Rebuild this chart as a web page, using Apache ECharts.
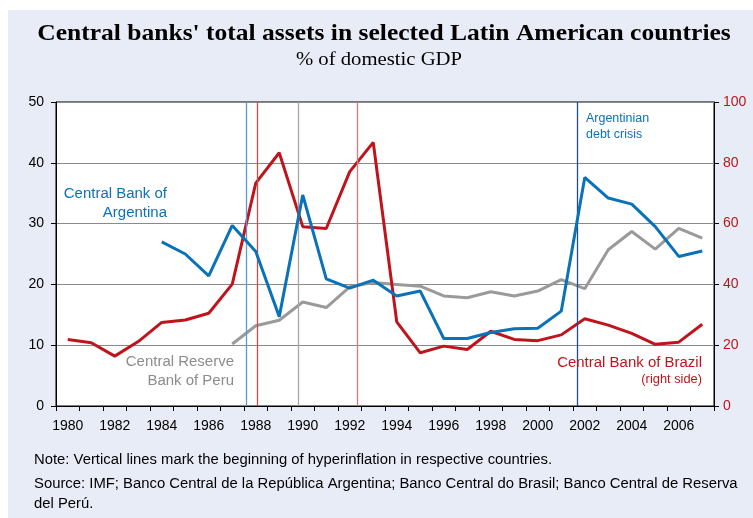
<!DOCTYPE html>
<html><head><meta charset="utf-8">
<script src="https://cdn.jsdelivr.net/npm/echarts@6/dist/echarts.min.js"></script>
<style>html,body{margin:0;padding:0;background:#fff}#c{width:753px;height:518px}</style>
</head><body><div id="c"></div>
<script>
const years = ['1980','1981','1982','1983','1984','1985','1986','1987','1988','1989','1990','1991','1992','1993','1994','1995','1996','1997','1998','1999','2000','2001','2002','2003','2004','2005','2006','2007'];
const argentina = [null,null,null,null,27.0,25.0,21.4,29.7,25.4,14.7,34.7,20.9,19.4,20.7,18.1,18.9,11.1,11.1,12.1,12.7,12.8,15.6,37.6,34.2,33.2,29.5,24.6,25.5];
const peru = [null,null,null,null,null,null,null,10.2,13.2,14.1,17.1,16.2,19.6,20.3,20.0,19.7,18.1,17.8,18.8,18.1,18.9,20.8,19.3,25.7,28.7,25.8,29.2,27.6];
const brazil = [21.9,20.8,16.4,21.2,27.5,28.3,30.5,40.1,73.3,83.3,59.0,58.4,77.1,86.7,27.7,17.5,19.7,18.6,24.6,21.9,21.5,23.4,28.7,26.6,23.9,20.3,21.0,26.9];
// Vertical marker lines (year positions)
const markerYears = [1987.6, 1988.07, 1989.8, 1992.3, 2001.7];
const markerColors = ['#5b9bd5','#c0504d','#a6a6a6','#d9797b','#1f4f8a'];

const BLUE = '#0a72b8', RED = '#c0141c', GRAY = '#9a9a9a';
const SANS = '"Liberation Sans", Arial, sans-serif';
const SERIF = '"Liberation Serif", "Times New Roman", serif';
const chart = echarts.init(document.getElementById('c'));
const axisFont = {fontFamily:SANS, fontSize:14};
chart.setOption({
  animation:false,
  backgroundColor:'#ffffff',
  graphic:[
    {type:'rect', z:-10, shape:{x:8,y:10,width:745,height:508}, style:{fill:'#e8ecf7'}},
    {type:'text', x:384, y:23, scaleX:1.11, style:{text:"Central banks' total assets in selected Latin American countries", align:'center', font:'bold 23px ' + SERIF, fill:'#000'}},
    {type:'text', x:379, y:51, scaleX:1.15, style:{text:'% of domestic GDP', align:'center', font:'18px ' + SERIF, fill:'#000'}},
    {type:'text', z:100, x:167, y:185, scaleX:1.07, style:{text:'Central Bank of\nArgentina', align:'right', font:'14px ' + SANS, fill:BLUE, lineHeight:19}},
    {type:'text', z:100, x:234, y:353, scaleX:1.07, style:{text:'Central Reserve\nBank of Peru', align:'right', font:'14px ' + SANS, fill:'#8c8c8c', lineHeight:19}},
    {type:'text', z:100, x:586, y:111, scaleX:1.04, style:{text:'Argentinian\ndebt crisis', align:'left', font:'12px ' + SANS, fill:BLUE, lineHeight:16}},
    {type:'text', z:100, x:702, y:356, scaleX:1.07, style:{text:'Central Bank of Brazil', align:'right', font:'14px ' + SANS, fill:RED}},
    {type:'text', z:100, x:702, y:374, scaleX:1.07, style:{text:'(right side)', align:'right', font:'12px ' + SANS, fill:RED}},
    {type:'text', x:34, y:453, scaleX:1.06, style:{text:'Note: Vertical lines mark the beginning of hyperinflation in respective countries.', font:'14px ' + SANS, fill:'#000'}},
    {type:'text', x:34, y:474, scaleX:1.06, style:{text:'Source: IMF; Banco Central de la República Argentina; Banco Central do Brasil; Banco Central de Reserva\ndel Perú.', font:'14px ' + SANS, fill:'#000', lineHeight:20}}
  ],
  grid:{left:56, right:39, top:102, bottom:112, show:true, backgroundColor:'#fff', borderColor:'#000', borderWidth:1},
  xAxis:[
    {type:'category', data:years, boundaryGap:true,
      axisLine:{lineStyle:{color:'#000', width:1}},
      axisTick:{show:true, interval:0, length:5, lineStyle:{color:'#000'}},
      axisLabel:Object.assign({interval:1, color:'#000', margin:13}, axisFont),
      splitLine:{show:false}},
    {type:'value', min:1979.5, max:2007.5, show:false, splitLine:{show:false}}
  ],
  yAxis:[
    {type:'value', min:0, max:50, interval:10, position:'left',
      axisLine:{show:true, lineStyle:{color:'#000'}},
      axisTick:{show:true, length:5, lineStyle:{color:'#000'}},
      axisLabel:Object.assign({color:'#000', margin:12}, axisFont),
      splitLine:{show:true, lineStyle:{color:'#8a8a8a', width:1}}},
    {type:'value', min:0, max:100, interval:20, position:'right',
      axisLine:{show:true, lineStyle:{color:'#000'}},
      axisTick:{show:true, length:5, lineStyle:{color:'#000'}},
      axisLabel:Object.assign({color:RED, margin:9}, axisFont),
      splitLine:{show:false}}
  ],
  series:[
    {type:'line', xAxisIndex:1, yAxisIndex:0, data:[], silent:true, z:1,
      markLine:{symbol:'none', silent:true, label:{show:false},
        data: markerYears.map((y,i)=>({xAxis:y, lineStyle:{color:markerColors[i], width:1.3, type:'solid'}}))}},
    {name:'Peru', type:'line', data:peru, yAxisIndex:0, symbol:'none', z:3, lineStyle:{color:GRAY, width:3}},
    {name:'Brazil', type:'line', data:brazil, yAxisIndex:1, symbol:'none', z:4, lineStyle:{color:RED, width:3}},
    {name:'Argentina', type:'line', data:argentina, yAxisIndex:0, symbol:'none', z:5, lineStyle:{color:BLUE, width:3}}
  ]
});
</script></body></html>
